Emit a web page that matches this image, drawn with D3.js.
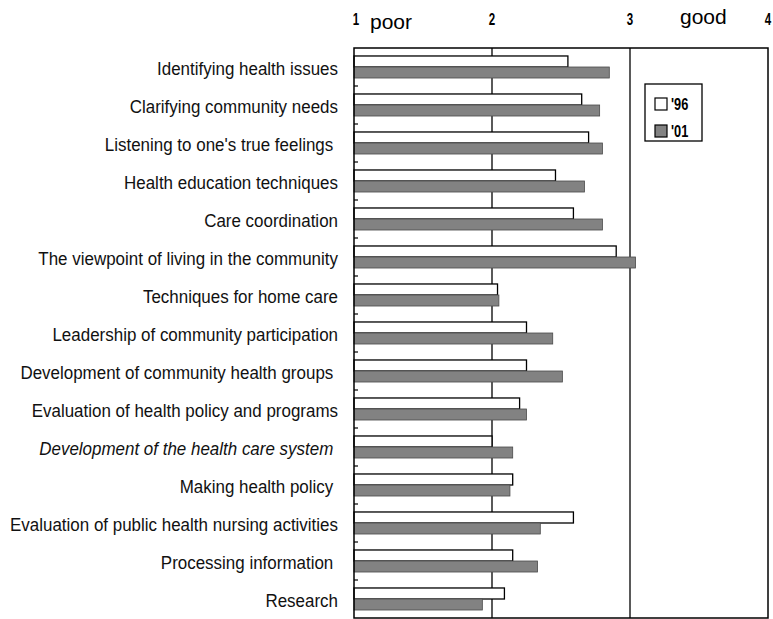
<!DOCTYPE html>
<html><head><meta charset="utf-8">
<script src="https://cdn.jsdelivr.net/npm/d3@7"></script>
<style>
body{margin:0;background:#fff;}
svg{display:block;}
.lab{font-family:"Liberation Sans","Arial",sans-serif;white-space:pre;}
</style></head>
<body>
<svg id="c" width="773" height="619"></svg>
<script>
const categories = [
  "Identifying health issues",
  "Clarifying community needs",
  "Listening to one's true feelings ",
  "Health education techniques",
  "Care coordination",
  "The viewpoint of living in the community",
  "Techniques for home care",
  "Leadership of community participation",
  "Development of community health groups ",
  "Evaluation of health policy and programs",
  "Development of the health care system ",
  "Making health policy ",
  "Evaluation of public health nursing activities",
  "Processing information ",
  "Research"
];
const italicCategories = ["Development of the health care system "];
const series = ["'96", "'01"];
const values96 = [2.55, 2.65, 2.70, 2.46, 2.59, 2.90, 2.04, 2.25, 2.25, 2.20, 2.00, 2.15, 2.59, 2.15, 2.09];
const values01 = [2.85, 2.78, 2.80, 2.67, 2.80, 3.04, 2.05, 2.44, 2.51, 2.25, 2.15, 2.13, 2.35, 2.33, 1.93];
const tickValues = [1, 2, 3, 4];
const gridValues = [2, 3];
const endLabels = ["poor", "good"];

const svg = d3.select("#c");
const pLeft = 354, pRight = 768, pTop = 48, pBottom = 618;
const grayFill = "#828282";

const x = d3.scaleLinear().domain([1, 4]).range([pLeft, pRight]);
const y = d3.scaleBand().domain(categories).range([pTop, pBottom]).paddingInner(0.42).paddingOuter(0.21);
const ySub = d3.scaleBand().domain(series).range([0, y.bandwidth()]);

// gridlines
svg.append("g").selectAll("line").data(gridValues).join("line")
  .attr("x1", d => x(d)).attr("x2", d => x(d))
  .attr("y1", pTop).attr("y2", pBottom)
  .attr("stroke", "#000").attr("stroke-width", 1.3);

// inner ticks at category boundaries
const step = y.step();
svg.append("g").selectAll("line").data(categories.slice(1)).join("line")
  .attr("x1", pLeft).attr("x2", pLeft + 4)
  .attr("y1", (d) => y(d) - y.paddingOuter() * step).attr("y2", (d) => y(d) - y.paddingOuter() * step)
  .attr("stroke", "#000").attr("stroke-width", 1.2);

// bars
const data = categories.map((c, i) => ({c, v: [values96[i], values01[i]]}));
const g = svg.append("g");
data.forEach(d => {
  g.append("rect")
    .attr("x", x(1)).attr("y", y(d.c) + ySub(series[0]))
    .attr("width", x(d.v[0]) - x(1)).attr("height", ySub.bandwidth())
    .attr("fill", "#fff").attr("stroke", "#000").attr("stroke-width", 1.3);
  g.append("rect")
    .attr("x", x(1)).attr("y", y(d.c) + ySub(series[1]))
    .attr("width", x(d.v[1]) - x(1)).attr("height", ySub.bandwidth())
    .attr("fill", grayFill).attr("stroke", "#4a4a4a").attr("stroke-width", 0.8);
});

// plot box
svg.append("rect").attr("x", pLeft).attr("y", pTop).attr("width", pRight - pLeft).attr("height", pBottom - pTop)
  .attr("fill", "none").attr("stroke", "#000").attr("stroke-width", 1.5);

// category labels (condensed via horizontal scale)
svg.append("g").selectAll("text").data(categories).join("text")
  .attr("class", "lab")
  .attr("transform", d => `translate(338,${y(d) + y.bandwidth() / 2 + 8}) scale(0.97,1)`)
  .attr("text-anchor", "end")
  .attr("font-size", 17.5)
  .attr("font-style", d => italicCategories.includes(d) ? "italic" : "normal")
  .attr("fill", "#111")
  .text(d => d);

// top tick labels
svg.append("g").selectAll("text").data(tickValues).join("text")
  .attr("class", "lab")
  .attr("transform", d => `translate(${x(d) + (d === 1 ? 2 : 0)},25) scale(0.72,1)`)
  .attr("text-anchor", "middle")
  .attr("font-size", 16).attr("font-weight", "bold")
  .text(d => d);

svg.append("text").attr("class", "lab").attr("x", 370).attr("y", 29)
  .attr("font-size", 21).text(endLabels[0]);
svg.append("text").attr("class", "lab").attr("x", 680).attr("y", 24)
  .attr("font-size", 21).text(endLabels[1]);

// legend
const lg = svg.append("g");
lg.append("rect").attr("x", 645).attr("y", 84).attr("width", 57).attr("height", 57)
  .attr("fill", "#fff").attr("stroke", "#000").attr("stroke-width", 1.3);
series.forEach((s, i) => {
  lg.append("rect").attr("x", 655).attr("y", 98 + i * 27).attr("width", 12).attr("height", 12)
    .attr("fill", i === 0 ? "#fff" : grayFill).attr("stroke", "#000").attr("stroke-width", 1.2);
  lg.append("text").attr("class", "lab")
    .attr("transform", `translate(671,${110 + i * 27}) scale(0.8,1)`)
    .attr("font-size", 16).attr("font-weight", "bold").text(s);
});
</script>
</body></html>
